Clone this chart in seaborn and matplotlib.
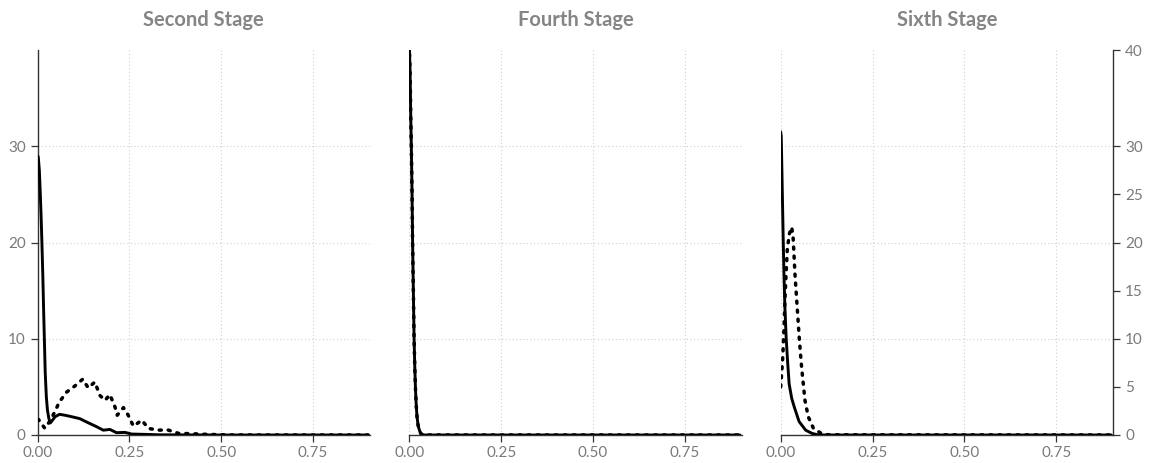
import numpy as np
import pandas as pd
import matplotlib
matplotlib.use("Agg")
import matplotlib.pyplot as plt
import seaborn as sns

# ---- data ----
titles = ["Second Stage", "Fourth Stage", "Sixth Stage"]
xticks = [0.0, 0.25, 0.50, 0.75]
xtick_labels = ["0.00", "0.25", "0.50", "0.75"]

s2_solid_x = [0.0, 0.002, 0.005, 0.0075, 0.010, 0.012, 0.0145, 0.0165, 0.019, 0.021, 0.024, 0.027,
              0.031, 0.035, 0.040, 0.048, 0.060, 0.075, 0.093, 0.115, 0.138, 0.161, 0.179, 0.197,
              0.215, 0.238, 0.256, 0.288, 0.33, 0.40, 0.50, 0.65, 0.90]
s2_solid_y = [29.0, 28.9, 27.5, 25.2, 22.5, 20.0, 16.5, 13.2, 9.5, 6.5, 4.0, 2.6,
              1.7, 1.25, 1.5, 1.9, 2.15, 2.05, 1.9, 1.7, 1.27, 0.86, 0.5, 0.58,
              0.24, 0.27, 0.1, 0.07, 0.02, 0.01, 0.0, 0.0, 0.0]
s2_dot_x = [0.0, 0.003, 0.012, 0.02, 0.033, 0.047, 0.059, 0.079, 0.102, 0.123, 0.138, 0.156, 0.17,
            0.184, 0.197, 0.211, 0.217, 0.234, 0.247, 0.261, 0.284, 0.302, 0.329, 0.356, 0.384,
            0.415, 0.46, 0.53, 0.9]
s2_dot_y = [1.6, 1.6, 1.1, 0.7, 1.4, 2.4, 3.4, 4.45, 5.1, 5.8, 4.9, 5.5, 4.1,
            3.6, 4.2, 2.9, 2.05, 2.85, 2.05, 0.92, 1.54, 0.68, 0.51, 0.51, 0.17,
            0.14, 0.07, 0.0, 0.0]

s4_solid_x = [0.0, 0.002, 0.004, 0.0055, 0.0075, 0.009, 0.011, 0.013, 0.015, 0.017, 0.019, 0.021,
              0.024, 0.026, 0.029, 0.031, 0.035, 0.04, 0.9]
s4_solid_y = [40.5, 38.0, 33.0, 30.0, 25.0, 20.0, 15.0, 10.0, 7.0, 4.6, 3.0, 1.9,
              1.0, 0.7, 0.35, 0.17, 0.05, 0.0, 0.0]
s4_dot_x = s4_solid_x
s4_dot_y = s4_solid_y

s6_solid_x = [0.0, 0.0015, 0.003, 0.005, 0.007, 0.009, 0.0115, 0.015, 0.019, 0.023, 0.03, 0.037,
              0.05, 0.068, 0.085, 0.1, 0.12, 0.9]
s6_solid_y = [31.5, 31.0, 28.0, 24.0, 20.0, 16.5, 13.2, 10.0, 7.5, 5.3, 3.8, 2.9,
              1.4, 0.5, 0.17, 0.03, 0.0, 0.0]
s6_dot_x = [0.0, 0.0055, 0.009, 0.0117, 0.0145, 0.018, 0.0235, 0.03, 0.034, 0.039, 0.045, 0.051,
            0.057, 0.066, 0.075, 0.089, 0.11, 0.13, 0.9]
s6_dot_y = [5.0, 8.0, 11.1, 14.2, 16.6, 19.3, 20.9, 21.6, 20.4, 16.6, 13.2, 9.8,
            7.0, 3.6, 1.9, 0.7, 0.17, 0.02, 0.0]

series = [
    (s2_solid_x, s2_solid_y, s2_dot_x, s2_dot_y),
    (s4_solid_x, s4_solid_y, s4_dot_x, s4_dot_y),
    (s6_solid_x, s6_solid_y, s6_dot_x, s6_dot_y),
]

# ---- style ----
sns.set_style("white")
plt.rcParams['font.family'] = ['Lato', 'DejaVu Sans']

GRAY_TXT = "#7a7a7a"
SPINE = "#333333"

fig = plt.figure(figsize=(11.56, 4.63), dpi=100)
W, H = 1156, 463
lefts = [37.5, 409.3, 780.7]
aw = 332.5
bottom_px, top_px = 435, 50
axes = []
for i, l in enumerate(lefts):
    ax = fig.add_axes([l / W, (H - bottom_px) / H, aw / W, (bottom_px - top_px) / H])
    axes.append(ax)

for i, ax in enumerate(axes):
    sx, sy, dx, dy = series[i]
    ax.grid(True, which="major", linestyle=(0, (1, 2.2)), color="#d0d0d0", linewidth=0.8)
    ax.set_axisbelow(True)
    sns.lineplot(x=dx, y=dy, ax=ax, color="black", linewidth=2.5,
                 linestyle=(0, (0.6, 2.0)), dash_capstyle="round", zorder=3)
    sns.lineplot(x=sx, y=sy, ax=ax, color="black", linewidth=2.1, zorder=4)
    ax.set_xlim(0, 0.905)
    ax.set_ylim(0, 40)
    ax.set_xticks(xticks)
    ax.set_xticklabels(xtick_labels)
    ax.set_title(titles[i], fontsize=14.5, fontweight="bold", color="#858585", pad=17.5)
    ax.set_xlabel("")
    ax.set_ylabel("")
    for sp in ["top", "left", "right", "bottom"]:
        ax.spines[sp].set_visible(False)
    ax.spines["bottom"].set_visible(True)
    ax.spines["bottom"].set_color(SPINE)
    ax.spines["bottom"].set_linewidth(1.0)
    ax.tick_params(axis="x", which="both", length=5, width=0.9, color=SPINE,
                   labelcolor=GRAY_TXT, labelsize=11, pad=3, direction="out", bottom=True)

# panel 1: left axis
ax = axes[0]
ax.spines["left"].set_visible(True)
ax.spines["left"].set_color(SPINE)
ax.spines["left"].set_linewidth(1.0)
ax.set_yticks([0, 10, 20, 30])
ax.tick_params(axis="y", which="both", length=5, width=0.9, color=SPINE,
               labelcolor=GRAY_TXT, labelsize=11, left=True, direction="out")

# panel 2: no y axis
ax = axes[1]
ax.set_yticks([0, 10, 20, 30])
ax.tick_params(axis="y", left=False, labelleft=False)

# panel 3: right axis
ax = axes[2]
ax.spines["right"].set_visible(True)
ax.spines["right"].set_color(SPINE)
ax.spines["right"].set_linewidth(1.0)
ax.set_yticks([0, 10, 20, 30])
ax.set_yticks([5, 15, 25, 40], minor=True)
ax.set_yticklabels(["5", "15", "25", "40"], minor=True)
ax.yaxis.tick_right()
ax.tick_params(axis="y", which="both", length=5, width=0.9, color=SPINE,
               labelcolor=GRAY_TXT, labelsize=11, right=True, left=False,
               labelright=True, labelleft=False, direction="out")

fig.savefig("out.png", dpi=100)
